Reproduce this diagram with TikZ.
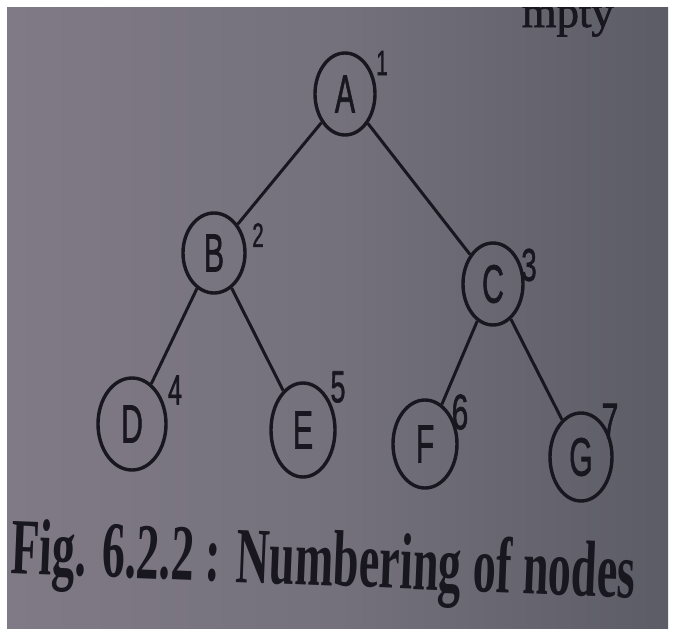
\documentclass[tikz,border=0pt]{standalone}
\usepackage{fontspec}
\setmainfont{Liberation Serif}
\newfontfamily\sansf[FakeBold=1.5]{Liberation Sans}
\newfontfamily\topf[FakeBold=1.5]{Liberation Serif}
\usetikzlibrary{shapes.geometric}
\definecolor{ink}{RGB}{24,22,30}
\definecolor{paperL}{RGB}{128,122,134}
\definecolor{paperM}{RGB}{116,113,124}
\definecolor{paperR}{RGB}{92,92,102}
\newcommand\lettxt[1]{\sansf\fontsize{54}{54}\selectfont\scalebox{0.56}[1]{#1}}
\newcommand\numtxt[2]{\sansf\fontsize{#1}{#1}\selectfont\scalebox{0.6}[1]{#2}}
\tikzset{
  treenode/.style={ellipse, draw=ink, line width=3.4pt, inner sep=0pt, text=ink},
  numlab/.style={inner sep=0pt, text=ink},
  branch/.style={draw=ink, line width=3pt}
}
\begin{document}
\begin{tikzpicture}[x=1pt,y=-1pt]
\useasboundingbox (0,0) rectangle (675,632);
\fill[white] (0,0) rectangle (675,632);
\shade[left color=paperL, right color=paperR, middle color=paperM] (7,7) rectangle (668,628);
\begin{scope}
\clip (7,7) rectangle (668,628);
\node[anchor=base east, inner sep=0pt, text=ink] (top) at (614,27) {\topf\resizebox{92pt}{!}{mpty}};
\end{scope}
% nodes
\node[treenode, minimum width=60pt, minimum height=82pt] (A) at (345,94) {\lettxt{A}};
\node[treenode, minimum width=62pt, minimum height=80pt] (B) at (214,253) {\lettxt{B}};
\node[treenode, minimum width=60pt, minimum height=82pt] (C) at (493,284) {\lettxt{C}};
\node[treenode, minimum width=68pt, minimum height=92pt] (D) at (132,424) {\lettxt{D}};
\node[treenode, minimum width=64pt, minimum height=94pt] (E) at (303,430) {\lettxt{E}};
\node[treenode, minimum width=64pt, minimum height=88pt] (F) at (425,444) {\lettxt{F}};
\node[treenode, minimum width=62pt, minimum height=88pt] (G) at (581,457) {\lettxt{G}};
% numbers
\node[numlab] (n1) at (382,63) {\numtxt{35}{1}};
\node[numlab] (n2) at (258,235) {\numtxt{34}{2}};
\node[numlab] (n3) at (529,265) {\numtxt{46}{3}};
\node[numlab] (n4) at (175,390) {\numtxt{42}{4}};
\node[numlab] (n5) at (338,387) {\numtxt{45}{5}};
\node[numlab] (n6) at (460,412) {\numtxt{50}{6}};
\node[numlab] (n7) at (610,421) {\numtxt{50}{7}};
% edges
\draw[branch] (A) -- (B);
\draw[branch] (A) -- (C);
\draw[branch] (B) -- (D);
\draw[branch] (B) -- (E);
\draw[branch] (C) -- (F);
\draw[branch] (C) -- (G);
% caption
\node[anchor=base west, inner sep=0pt, text=ink, rotate=-2.3] (cap) at (10,573)
  {\resizebox{625pt}{56pt}{\bfseries Fig. 6.2.2 : Numbering of nodes}};
\end{tikzpicture}
\end{document}
